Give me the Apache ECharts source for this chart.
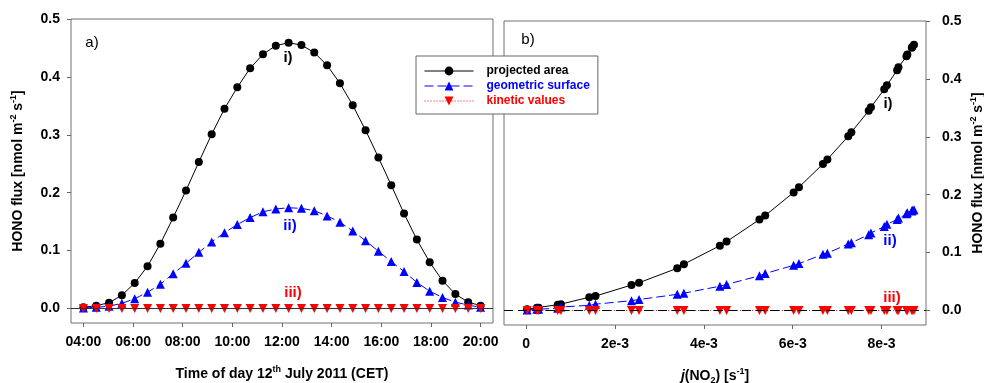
<!DOCTYPE html>
<html><head><meta charset="utf-8">
<script src="https://cdn.jsdelivr.net/npm/echarts@6/dist/echarts.min.js"></script>
<style>html,body{margin:0;padding:0;background:#fff}#c{width:984px;height:383px}</style>
</head><body><div id="c"></div>
<script>
// ---- data ----
const times = ['04:00','04:31','05:02','05:33','06:04','06:35','07:06','07:37','08:08','08:39','09:10','09:41','10:12','10:43','11:14','11:45','12:16','12:47','13:18','13:49','14:20','14:51','15:22','15:53','16:24','16:55','17:26','17:57','18:28','18:59','19:30','20:00'];
const projectedArea = [0.002,0.005,0.010,0.023,0.044,0.073,0.112,0.157,0.204,0.253,0.301,0.345,0.382,0.415,0.439,0.454,0.459,0.455,0.442,0.420,0.389,0.351,0.308,0.261,0.213,0.164,0.119,0.080,0.048,0.025,0.011,0.005];
const geometricSurface = [0.001,0.002,0.004,0.009,0.017,0.028,0.042,0.060,0.078,0.097,0.115,0.131,0.145,0.157,0.167,0.172,0.174,0.173,0.169,0.160,0.149,0.134,0.117,0.099,0.081,0.064,0.045,0.030,0.019,0.011,0.006,0.002];
const kineticValues = [0,0,0,0,0,0,0,0,0,0,0,0,0,0,0,0,0,0,0,0,0,0,0,0,0,0,0,0,0,0,0,0];
const jNO2 = [0.00002,0.00024,0.00071,0.00142,0.00237,0.00340,0.00436,0.00525,0.00602,0.00668,0.00725,0.00771,0.00806,0.00835,0.00856,0.00868,0.00873,0.00869,0.00858,0.00838,0.00812,0.00776,0.00732,0.00678,0.00614,0.00538,0.00451,0.00355,0.00254,0.00156,0.00078,0.00028];
const timeTicks = [4,6,8,10,12,14,16,18,20];
const timeTickLabels = ['04:00','06:00','08:00','10:00','12:00','14:00','16:00','18:00','20:00'];
const jTicks = [0,0.002,0.004,0.006,0.008];
const jTickLabels = ['0','2e-3','4e-3','6e-3','8e-3'];
const fluxTicks = [0,0.1,0.2,0.3,0.4,0.5];
const fluxTickLabels = ['0.0','0.1','0.2','0.3','0.4','0.5'];
const seriesNames = ['projected area','geometric surface','kinetic values'];

// ---- build ----
const FONT = '"Liberation Sans", Arial, sans-serif';
const toHours = s => { const p = s.split(':'); return +p[0] + (+p[1]) / 60; };
const hrs = times.map(toHours);
const order = jNO2.map((v, i) => i).sort((a, b) => jNO2[a] - jNO2[b]);
const leftData = arr => hrs.map((h, i) => [h, arr[i]]);
const rightData = arr => order.map(i => [jNO2[i], arr[i]]);
const lab = (ticks, labels) => v => { const k = ticks.indexOf(v); return k >= 0 ? labels[k] : ''; };

const tickStyle = { show: true, length: 4, lineStyle: { color: '#666', width: 1 } };
const labelStyle = { color: '#000', fontFamily: FONT, fontWeight: 'bold', fontSize: 14 };
const nameRich = {
  t: { fontFamily: FONT, fontWeight: 'bold', fontSize: 14, color: '#000', lineHeight: 18 },
  i: { fontFamily: FONT, fontWeight: 'bold', fontStyle: 'italic', fontSize: 14, color: '#000', lineHeight: 18 },
  s: { fontFamily: FONT, fontWeight: 'bold', fontSize: 9, color: '#000', verticalAlign: 'top', lineHeight: 18 },
  d: { fontFamily: FONT, fontWeight: 'bold', fontSize: 9, color: '#000', verticalAlign: 'bottom', lineHeight: 14 }
};
const yName = '{t|HONO flux [nmol m}{s|-2}{t| s}{s|-1}{t|]}';

const styles = [
  { color: '#000', symbol: 'circle', size: 8, rot: 0, line: { color: '#000', width: 1, type: 'solid' } },
  { color: '#0000ff', symbol: 'triangle', size: 9, rot: 0, line: { color: '#0000ff', width: 1, type: [9, 4] } },
  { color: '#ff0000', symbol: 'triangle', size: 9, rot: 180, line: { color: '#ff0000', width: 1, type: [1, 2] } }
];
const arrays = [projectedArea, geometricSurface, kineticValues];

const series = [];
[0, 1].forEach(g => {
  arrays.forEach((arr, k) => {
    const st = styles[k];
    const s = {
      name: seriesNames[k], type: 'line', xAxisIndex: g, yAxisIndex: g,
      data: g === 0 ? leftData(arr) : rightData(arr),
      symbol: st.symbol, symbolSize: st.size, symbolRotate: st.rot,
      showSymbol: true, smooth: false, z: 2 + k,
      itemStyle: { color: st.color, borderWidth: 0 },
      lineStyle: st.line,
      emphasis: { disabled: true }
    };
    if (k === 0) {
      s.markLine = {
        silent: true, symbol: 'none', animation: false,
        label: { show: false },
        lineStyle: g === 0 ? { color: '#333', width: 1, type: 'solid' } : { color: '#000', width: 1, type: [9, 5] },
        data: [{ yAxis: 0 }]
      };
    }
    series.push(s);
  });
});

const txt = (x, y, text, color, bold, size) => ({
  type: 'text', x, y, z: 10,
  style: { text, fill: color, font: (bold ? 'bold ' : '') + size + 'px ' + FONT, align: 'center', verticalAlign: 'middle', textAlign: 'center', textVerticalAlign: 'middle' }
});

const option = {
  animation: false,
  backgroundColor: '#fff',
  grid: [
    { left: 71, right: 491, top: 19, bottom: 60, show: true, borderColor: '#707070', borderWidth: 1, backgroundColor: 'transparent', outerBoundsMode: 'none', containLabel: false },
    { left: 504, right: 58, top: 21, bottom: 58, show: true, borderColor: '#707070', borderWidth: 1, backgroundColor: 'transparent', outerBoundsMode: 'none', containLabel: false }
  ],
  xAxis: [
    { type: 'value', gridIndex: 0, min: 3.5, max: 20.5, splitLine: { show: false },
      axisLine: { show: false, onZero: false }, axisTick: Object.assign({ customValues: timeTicks }, tickStyle),
      axisLabel: Object.assign({ customValues: timeTicks, margin: 12, formatter: lab(timeTicks, timeTickLabels) }, labelStyle),
      name: '{t|Time of day 12}{s|th}{t| July 2011 (CET)}', nameLocation: 'middle', nameGap: 42, nameMoveOverlap: false,
      nameTextStyle: { rich: nameRich } },
    { type: 'value', gridIndex: 1, min: -0.0005, max: 0.009, splitLine: { show: false },
      axisLine: { show: false, onZero: false }, axisTick: Object.assign({ customValues: jTicks }, tickStyle),
      axisLabel: Object.assign({ customValues: jTicks, margin: 12, formatter: lab(jTicks, jTickLabels) }, labelStyle),
      name: '{i|j}{t|(NO}{d|2}{t|) [s}{s|-1}{t|]}', nameLocation: 'middle', nameGap: 42, nameMoveOverlap: false,
      nameTextStyle: { rich: nameRich } }
  ],
  yAxis: [
    { type: 'value', gridIndex: 0, min: -0.025, max: 0.5, splitLine: { show: false },
      axisLine: { show: false, onZero: false }, axisTick: Object.assign({ customValues: fluxTicks }, tickStyle),
      axisLabel: Object.assign({ customValues: fluxTicks, margin: 11, formatter: lab(fluxTicks, fluxTickLabels) }, labelStyle),
      name: yName, nameLocation: 'middle', nameRotate: 90, nameGap: 44, nameMoveOverlap: false,
      nameTextStyle: { rich: nameRich } },
    { type: 'value', gridIndex: 1, position: 'right', min: -0.025, max: 0.5, splitLine: { show: false },
      axisLine: { show: false, onZero: false }, axisTick: Object.assign({ customValues: fluxTicks }, tickStyle),
      axisLabel: Object.assign({ customValues: fluxTicks, margin: 16, formatter: lab(fluxTicks, fluxTickLabels) }, labelStyle),
      name: yName, nameLocation: 'middle', nameRotate: 90, nameGap: 43, nameMoveOverlap: false,
      nameTextStyle: { rich: nameRich } }
  ],
  legend: {
    show: true, orient: 'vertical', left: 416, top: 56, z: 20,
    backgroundColor: '#fff', borderColor: '#666', borderWidth: 1,
    padding: [9, 8, 7, 8], itemWidth: 49, itemHeight: 11, itemGap: 3,
    selectedMode: false,
    lineStyle: { width: 1 },
    textStyle: { fontFamily: FONT, fontWeight: 'bold', fontSize: 12, padding: [0, 0, 0, 8] },
    data: [
      { name: seriesNames[0], textStyle: { color: '#000' } },
      { name: seriesNames[1], textStyle: { color: '#0000ff' } },
      { name: seriesNames[2], textStyle: { color: '#ff0000' } }
    ]
  },
  graphic: [
    txt(92, 43, 'a)', '#000', false, 15),
    txt(288, 58, 'i)', '#000', true, 15),
    txt(290, 226, 'ii)', '#0000ff', true, 15),
    txt(293, 293, 'iii)', '#ff0000', true, 15),
    txt(528, 40, 'b)', '#000', false, 15),
    txt(888, 104, 'i)', '#000', true, 15),
    txt(890, 241, 'ii)', '#0000ff', true, 15),
    txt(892, 298, 'iii)', '#ff0000', true, 15)
  ],
  series
};
const chart = echarts.init(document.getElementById('c'), null, { renderer: 'canvas' });
chart.setOption(option);
</script></body></html>
